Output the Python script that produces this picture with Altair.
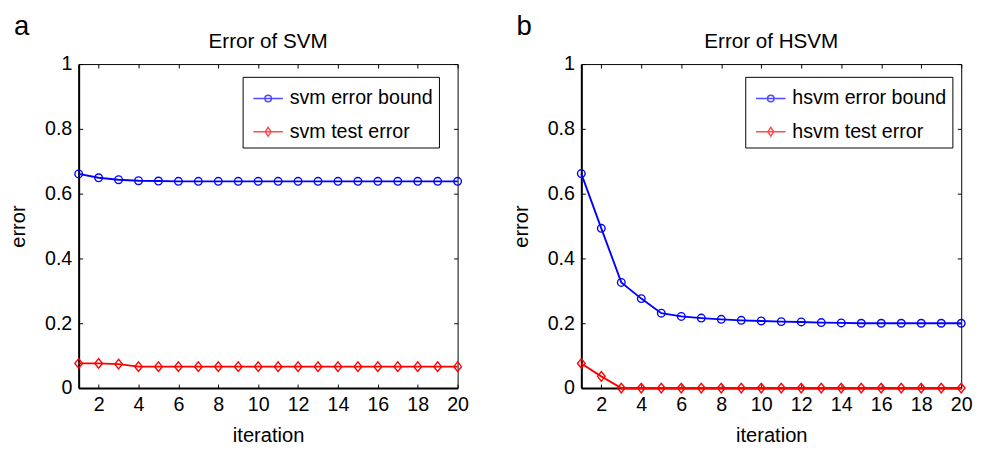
import altair as alt
import pandas as pd

# ---------------- data ----------------
iterations = [1, 2, 3, 4, 5, 6, 7, 8, 9, 10, 11, 12, 13, 14, 15, 16, 17, 18, 19, 20]

svm_bound = [0.661, 0.649, 0.643, 0.640, 0.639, 0.638, 0.638, 0.638, 0.638, 0.638,
             0.638, 0.638, 0.638, 0.638, 0.638, 0.638, 0.638, 0.638, 0.638, 0.638]
svm_test = [0.076, 0.076, 0.074, 0.066, 0.066, 0.066, 0.066, 0.066, 0.066, 0.066,
            0.066, 0.066, 0.066, 0.066, 0.066, 0.066, 0.066, 0.066, 0.066, 0.066]

hsvm_bound = [0.662, 0.493, 0.326, 0.276, 0.231, 0.221, 0.216, 0.212, 0.209, 0.207,
              0.205, 0.204, 0.202, 0.201, 0.200, 0.200, 0.200, 0.200, 0.200, 0.200]
hsvm_test = [0.076, 0.036, 0.0, 0.0, 0.0, 0.0, 0.0, 0.0, 0.0, 0.0,
             0.0, 0.0, 0.0, 0.0, 0.0, 0.0, 0.0, 0.0, 0.0, 0.0]

panel_letters = ["a", "b"]
panel_titles = ["Error of SVM", "Error of HSVM"]
svm_names = ["svm error bound", "svm test error"]
hsvm_names = ["hsvm error bound", "hsvm test error"]
x_ticks = [2, 4, 6, 8, 10, 12, 14, 16, 18, 20]
y_ticks = [0, 0.2, 0.4, 0.6, 0.8, 1]

FONT = "Liberation Sans"
COLORS = ["#0000ff", "#ff0000"]
DIAMOND = "M-0.8,0L0,-1L0.8,0L0,1Z"
LEG_CIRCLE = "M-1,0L1,0M0.22,0A0.22,0.22,0,1,1,-0.22,0A0.22,0.22,0,1,1,0.22,0"
LEG_DIAMOND = "M-1,0L1,0M-0.2,0L0,-0.3L0.2,0L0,0.3Z"


def tick_axis(orient, values):
    return alt.Axis(orient=orient, values=values, labels=False, domain=False,
                    grid=False, ticks=True, tickSize=4, offset=-4,
                    tickColor="black", tickWidth=1, title=None)


def make_panel(letter, title, names, bound, test, width, height):
    df = pd.DataFrame({
        "iteration": iterations + iterations,
        "error": bound + test,
        "series": [names[0]] * len(iterations) + [names[1]] * len(iterations),
    })
    x_scale = alt.Scale(domain=[1, 20], nice=False, zero=False)
    y_scale = alt.Scale(domain=[0, 1], nice=False)
    color_scale = alt.Scale(domain=names, range=COLORS)

    x_main = alt.Axis(values=x_ticks, title="iteration", ticks=False, tickSize=0,
                      domain=True, domainColor="black", domainWidth=2, grid=False,
                      labelFlush=False, labelPadding=7, titlePadding=11,
                      labelFontSize=20, titleFontSize=20.5)
    y_main = alt.Axis(values=y_ticks, format=".1~f", title="error", ticks=False,
                      tickSize=0, domain=True, domainColor="black", domainWidth=2,
                      grid=False, labelFlush=False, labelPadding=7, titlePadding=16,
                      labelFontSize=20, titleFontSize=20.5)

    base = alt.Chart(df)

    legend_def = alt.Legend(
        title=None, orient="none", legendX=167, legendY=13, direction="vertical",
        symbolSize=900, symbolStrokeWidth=1.5, symbolOffset=4, labelOffset=6,
        labelFontSize=20, labelFont=FONT, labelColor="black", padding=6,
        rowPadding=8, strokeColor="black", fillColor="white",
        symbolFillColor="transparent",
    )
    legend_layer = base.transform_filter("false").mark_point(filled=False).encode(
        x=alt.X("iteration:Q", scale=x_scale, axis=None),
        y=alt.Y("error:Q", scale=y_scale, axis=None),
        color=alt.Color("series:N", scale=color_scale, legend=legend_def),
        shape=alt.Shape("series:N",
                        scale=alt.Scale(domain=names, range=[LEG_CIRCLE, LEG_DIAMOND]),
                        legend=legend_def),
    )

    line = base.mark_line(strokeWidth=1.9, clip=False).encode(
        x=alt.X("iteration:Q", scale=x_scale, axis=x_main),
        y=alt.Y("error:Q", scale=y_scale, axis=y_main),
        color=alt.Color("series:N", scale=color_scale),
    )

    circles = base.transform_filter(alt.datum.series == names[0]).mark_point(
        shape="circle", size=60, strokeWidth=1.4, filled=False, opacity=1, clip=False
    ).encode(
        x=alt.X("iteration:Q", scale=x_scale, axis=tick_axis("top", x_ticks)),
        y=alt.Y("error:Q", scale=y_scale, axis=tick_axis("right", y_ticks)),
        color=alt.Color("series:N", scale=color_scale),
    )

    diamonds = base.transform_filter(alt.datum.series == names[1]).mark_point(
        shape=DIAMOND, size=95, strokeWidth=1.4, filled=False, opacity=1, clip=False
    ).encode(
        x=alt.X("iteration:Q", scale=x_scale, axis=tick_axis("bottom", x_ticks)),
        y=alt.Y("error:Q", scale=y_scale, axis=tick_axis("left", y_ticks)),
        color=alt.Color("series:N", scale=color_scale),
    )

    letter_mark = alt.Chart(pd.DataFrame({"letter": [letter]})).mark_text(
        fontSize=28, font=FONT, align="left", baseline="alphabetic", color="black"
    ).encode(text="letter:N", x=alt.value(-66), y=alt.value(-30))

    title_mark = alt.Chart(pd.DataFrame({"title": [title]})).mark_text(
        fontSize=21, font=FONT, align="center", baseline="alphabetic", color="black"
    ).encode(text="title:N", x=alt.value(width / 2), y=alt.value(-16))

    return alt.layer(legend_layer, line, circles, diamonds, letter_mark, title_mark
                     ).resolve_axis(x="independent", y="independent"
                     ).properties(width=width, height=height)


left = make_panel(panel_letters[0], panel_titles[0], svm_names, svm_bound, svm_test, 386, 330)
right = make_panel(panel_letters[1], panel_titles[1], hsvm_names, hsvm_bound, hsvm_test, 387, 330)

chart = alt.hconcat(left, right, spacing=42).resolve_scale(
    color="independent", shape="independent"
).resolve_legend(
    color="independent", shape="independent"
).properties(
    padding=0, background="white"
).configure_view(
    stroke="black", strokeWidth=1
).configure_axis(
    labelFont=FONT, titleFont=FONT, labelColor="black", titleColor="black",
    titleFontWeight="normal"
)

chart.save("out.html", embed_options={"renderer": "svg", "actions": False})
